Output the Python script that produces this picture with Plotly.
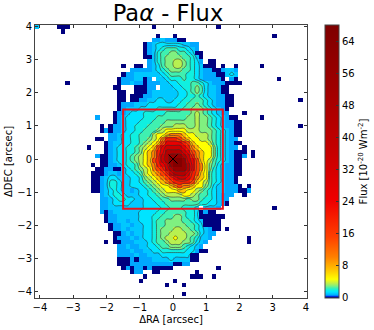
import numpy as np
import plotly.graph_objects as go

# one character per spaxel, top row first ('.' = no data)
FLUX_MAP = [
    "2....000.. .......... .......0.. .......... ..0....... .......... ...",
    "......0... .......... .......... .......... .......... .......... ...",
    ".......... .......... ........0. ..0....... .......... .....0.... ...",
    ".......... .......... .......112 11100..... .......... .......... ...",
    ".......... .......... .....01233 33332211.. .......... .......... ...",
    ".......... .......... .....01234 55544321.. .......... .......... ...",
    ".......... .......... .....01245 566554300. .......... .......... ...",
    ".......... .......... .....00245 666655420. .......... .......... ...",
    ".......... .......... ......1245 667765431. 00........ .......... ...",
    ".......... .......... 0..00.1235 6677654320 00.0..0... ..0....... ...",
    ".......... .......... ..11111234 5666554321 1001221... .......... ...",
    ".......... .......... 0112222223 4555544321 1100232... .......... ...",
    ".......... .........0 1112201.22 3444544321 1110.10... ......0... ...",
    ".......0.. .........0 1121101112 2334445543 21110000.. .......... ...",
    ".......... ........00 ...00011.2 2233445653 22100..... .......... ...",
    ".......... .........0 0..0001222 2223345653 22100..... .......... ...",
    ".......... .........0 0.00011222 2223344543 221100.... .......... ...",
    ".......... .........0 0.00112233 2233445554 321100.... .......... .0.",
    ".......... .........0 1112223333 3334455654 321100.... .......... ...",
    ".......... .........0 1222333344 4444556665 43210..... .......... ...",
    ".......... ........01 1233344444 5555556765 43211...0. .......... ...",
    ".......... ....1...01 2333344455 5555566766 5432100... ..0....... ...",
    ".......... ........01 2333444555 6666666766 54321100.. .......... ...",
    ".......... .....0.011 2334445556 6677766766 54321100.. .......... .0.",
    ".......... .....01011 2334455567 8888877766 65432100.. .......... ...",
    ".......... .......112 3344555788 9aaa988777 65432100.. .......... ...",
    ".......... ....00.112 334455678a cccba98877 6543211... .......... ...",
    ".......... ......0122 334456789b ddddcb9888 75432100.. .......... ...",
    ".......... ..0...0123 34456789bd eeeedca988 8643211.0. .......... ...",
    ".......... ......0123 3445689acd ffffedba98 864321000. 0......... ...",
    ".......... ....100123 3456789ace fgggfeca98 864321001. 0......... ...",
    ".......... .....00123 3456789bce fghhgedb98 75432100.. .......... ...",
    ".......... ...0.00112 3445789acd eghhgfdba8 65321100.. .......... ...",
    ".......... ....001100 2345678abc efgggfdba8 64321100.. .......... ...",
    ".......... ...0001221 23345789ab cefffecb98 54321100.. .......... ...",
    ".......... ...0012332 223346789a bcdeedca98 5432110... .......... ...",
    ".......... ...0012443 2233456789 abccccb987 5432110... .......... ...",
    ".......... ...0012443 2233345678 89abaa9886 53221110.0 .......... ...",
    ".......... ...0012343 2212334567 8889988765 4322111001 .......... ...",
    ".......... .....12344 3222334456 7777887655 432111..0. .......... ...",
    ".......... .....11234 4332233445 5666656654 43211..... .......... ...",
    ".......... .....11233 3322233344 5555555544 33210..... .......... ...",
    ".......... .....11222 2222233334 45554443.2 221....... .....0.... ...",
    ".......... .....10122 2222333344 5555544301 00........ .......... ...",
    ".......... ......0112 2222333445 5566544300 0000...... .......... ...",
    ".......... ......0112 2122333455 6666554320 000....... .......... ...",
    ".......... .......011 2212233455 6666655430 000....... .......... ...",
    ".......... .......011 2122233456 6677665432 100.0..... .......... ...",
    ".......... ........00 1212233456 6777766532 11........ .......... ...",
    ".......... ........01 1121233456 7787765422 1........0 .......... ...",
    ".......... ......0.00 1112223455 6777665321 .........0 .......... ...",
    ".......... .........1 1211223345 566654321. .......... .......... ...",
    ".......... .........1 1121122334 4444433100 .......... .......... ...",
    ".......... .........1 1112112223 33333300.. .......... .......... ...",
    ".......... .........0 0010111222 23222200.. .......... .......... ...",
    ".......... .........0 0011111111 110011.... .......... .......... ...",
    ".......... .......... 0101101000 00........ ..0....... .......... ...",
    ".......... .......... ..011..00. .......0.. .......... .......... ...",
    ".......... .......... .....0.... ......000. .0........ .......... ...",
    ".......... .......... ....0..... ..0....... .......... .......... ...",
    ".......... .......... .......... 0...0..... .......... .......... ...",
    ".......... .......... .......... .......... .......... .......... ...",
    ".......... .......... .......... ....0..... .......... .......... ...",
]
LEVEL_CODES = "0123456789abcdefgh"
LEVEL_FLUX = [0, 0.5, 0.9, 1.3, 1.8, 2.3, 2.8, 3.4, 4.5, 7, 10, 15, 20, 26, 34, 44, 56, 66]

SPAXEL = 0.13
X_RANGE = [-4.15, 4.03]
Y_RANGE = [-4.2, 4.05]
FLUX_RANGE = [-0.2, 68]
CB_TICKS = [0, 8, 16, 24, 32, 40, 48, 56, 64]
CONTOUR_LEVELS = [1.1, 1.6, 2.1, 2.6, 3.1, 4, 5.7, 8.5, 12, 17, 23, 30, 39, 50]
BOX_HALF = 1.5

# stretched jet, value in flux units
CMAP_FLUX = [0, 0.25, 0.5, 0.9, 1.3, 1.8, 2.3, 2.8, 3.4, 4.5, 7, 10, 15, 24, 36, 52, 68]
CMAP_COLOR = ["#00007f", "#0040ff", "#00a8ff", "#00c8ff", "#00e4ff", "#10f0e0", "#40f0b0", "#80f080", "#b8f050",
              "#ffff00", "#ffc000", "#ff8000", "#ff4000", "#f00000", "#c80000", "#a00000", "#7f0000"]

W, H = 374, 330


def fx(px):
    return px / W


def fy(py):
    return 1 - py / H


z = np.full((len(FLUX_MAP), 63), np.nan)
for r, row in enumerate(FLUX_MAP):
    cells = row.replace(" ", "")
    for c, ch in enumerate(cells[:63]):
        if ch != ".":
            z[r, c] = LEVEL_FLUX[LEVEL_CODES.index(ch)]

x = X_RANGE[0] + SPAXEL * (np.arange(63) + 0.5)
y = Y_RANGE[1] - SPAXEL * (np.arange(len(FLUX_MAP)) + 0.5)

span = FLUX_RANGE[1] - FLUX_RANGE[0]
colorscale = [[0, CMAP_COLOR[0]]] + [[(f - FLUX_RANGE[0]) / span, col] for f, col in zip(CMAP_FLUX, CMAP_COLOR)]

fig = go.Figure()
fig.add_trace(go.Heatmap(x=x, y=y, z=z, zmin=FLUX_RANGE[0], zmax=FLUX_RANGE[1], colorscale=colorscale,
                         hoverongaps=False,
                         colorbar=dict(x=fx(325), xanchor='left', xpad=0, ypad=0, thickness=14,
                                       y=fy(25), yanchor='top', len=273 / H, lenmode='fraction',
                                       tickvals=CB_TICKS, ticks='inside', ticklen=3, tickcolor='#333333',
                                       tickfont=dict(family='DejaVu Sans', size=10, color='black'),
                                       outlinecolor='#444444', outlinewidth=1,
                                       title=dict(text='Flux [10<sup>-20</sup> Wm<sup>-2</sup>]', side='right',
                                                  font=dict(family='DejaVu Sans', size=10, color='black')))))

for lev in CONTOUR_LEVELS:
    fig.add_trace(go.Contour(x=x, y=y, z=z, showscale=False, hoverinfo='skip', connectgaps=False,
                             contours=dict(coloring='none', start=lev, end=lev, size=1),
                             line=dict(color='#333333', width=0.6, smoothing=1.3)))

fig.add_shape(type='rect', x0=-BOX_HALF, x1=BOX_HALF, y0=-BOX_HALF, y1=BOX_HALF, line=dict(color='#e8141c', width=2))
fig.add_trace(go.Scatter(x=[0], y=[0], mode='markers', showlegend=False,
                         marker=dict(symbol='x-thin', size=9, line=dict(color='black', width=1))))

axis_style = dict(showgrid=False, zeroline=False, showline=True, linecolor='#444444', linewidth=1, mirror='ticks',
                  ticks='inside', ticklen=3, tickcolor='#333333', dtick=1,
                  tickfont=dict(family='DejaVu Sans', size=10, color='black'))
fig.update_layout(width=W, height=H, margin=dict(l=0, r=0, t=0, b=0), paper_bgcolor='white', plot_bgcolor='white',
                  showlegend=False,
                  title=dict(text='Pa<i>α</i> - Flux', x=fx(168), xanchor='center', y=fy(13), yanchor='middle',
                             font=dict(family='DejaVu Sans', size=22.5, color='black')),
                  xaxis=dict(domain=[fx(35), fx(307)], range=X_RANGE, tick0=-4, automargin=False,
                             title=dict(text='ΔRA [arcsec]', standoff=3, font=dict(family='DejaVu Sans', size=10, color='black')),
                             **axis_style),
                  yaxis=dict(domain=[fy(298), fy(25)], range=Y_RANGE, tick0=-4, automargin=False,
                             title=dict(text='ΔDEC [arcsec]', standoff=2, font=dict(family='DejaVu Sans', size=10, color='black')),
                             **axis_style))
# the page body would otherwise push the figure 8 px down and right
fig.write_html("out.html", config=dict(displayModeBar=False), post_script="document.body.style.margin='0';")
